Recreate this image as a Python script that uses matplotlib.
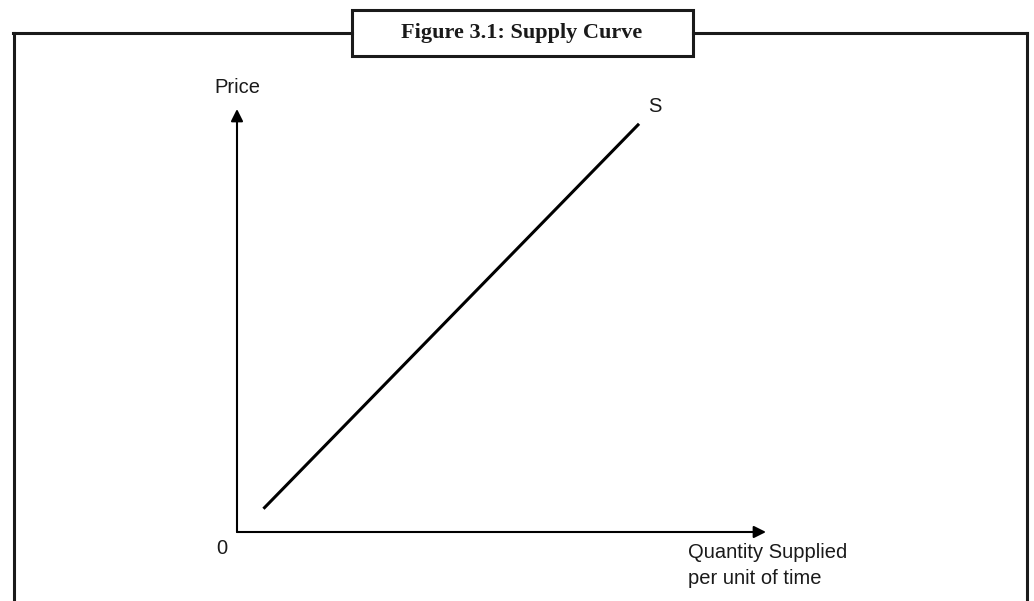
import matplotlib
matplotlib.use("Agg")
import matplotlib.pyplot as plt
from matplotlib.patches import Rectangle

INK = "#1a1a1a"

# supply curve end points (quantity, price) on a 0-10 schematic scale
quantity = [0.5, 7.6]
price = [0.55, 9.65]

title = "Figure 3.1: Supply Curve"
y_label = "Price"
x_label = "Quantity Supplied\nper unit of time"
curve_label = "S"
origin_label = "0"

W, H = 1034, 601
fig = plt.figure(figsize=(W / 100, H / 100), dpi=100)
fig.patch.set_facecolor("white")

# frame + title box, drawn in pixel coords
bg = fig.add_axes([0, 0, 1, 1])
bg.set_xlim(0, W); bg.set_ylim(H, 0); bg.axis("off")
lw_frame = 2.2
bg.plot([13, 352], [33, 33], color=INK, lw=lw_frame)
bg.plot([693, 1027], [33, 33], color=INK, lw=lw_frame)
bg.plot([14, 14], [33, H + 5], color=INK, lw=lw_frame, solid_capstyle="projecting")
bg.plot([1027, 1027], [33, H + 5], color=INK, lw=lw_frame, solid_capstyle="projecting")
bg.add_patch(Rectangle((352, 10), 341, 46, fill=False, ec=INK, lw=lw_frame))
bg.text(522, 33, title, ha="center", va="center", fontsize=16,
        fontweight="bold", family="Liberation Serif", color=INK)

# the diagram itself
ax = fig.add_axes([237 / W, 69 / H, 529 / W, 423 / H])
ax.set_xlim(0, 10); ax.set_ylim(0, 10); ax.axis("off")
arrow = dict(arrowstyle="-|>,head_length=0.6,head_width=0.3", color="black",
             lw=1.5, mutation_scale=12, shrinkA=0, shrinkB=0)
ax.annotate("", xy=(10, 0), xytext=(0, 0), arrowprops=arrow, annotation_clip=False)
ax.annotate("", xy=(0, 10), xytext=(0, 0), arrowprops=arrow, annotation_clip=False)
ax.plot(quantity, price, color="black", lw=2.2, solid_capstyle="butt")

sans = dict(family="Liberation Sans", fontsize=14.5, color=INK)
ax.text(0, 10.5, y_label, ha="center", va="center", **sans)
ax.text(7.9, 10.05, curve_label, ha="center", va="center", **sans)
ax.text(-0.28, -0.40, origin_label, ha="center", va="center", **sans)
ax.text(8.53, -0.79, x_label, ha="left", va="center", linespacing=1.45, **sans)

fig.savefig("out.png", dpi=100)
